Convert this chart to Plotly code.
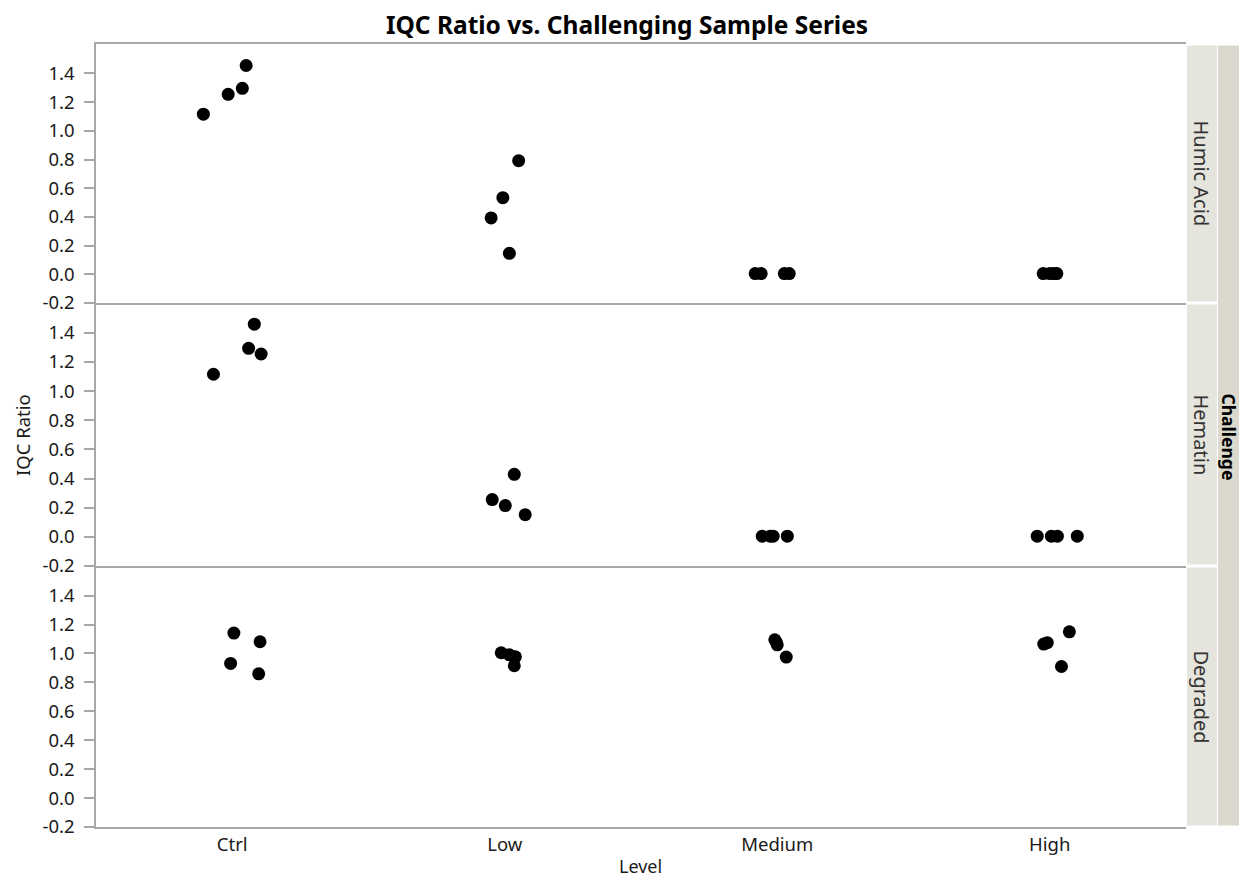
import numpy as np
import plotly.graph_objects as go
from plotly.subplots import make_subplots

levels = ["Ctrl", "Low", "Medium", "High"]
challenges = ["Humic Acid", "Hematin", "Degraded"]
y_ticks = [-0.2, 0.0, 0.2, 0.4, 0.6, 0.8, 1.0, 1.2, 1.4]

level_idx = [0, 0, 0, 0, 1, 1, 1, 1, 2, 2, 2, 2, 3, 3, 3, 3]

humic_ratio = [1.116, 1.254, 1.296, 1.455,
               0.792, 0.534, 0.393, 0.146,
               0.005, 0.005, 0.005, 0.005,
               0.005, 0.005, 0.005, 0.005]
humic_jitter = [-0.106, -0.015, 0.037, 0.051,
                0.051, -0.007, -0.050, 0.017,
                -0.081, -0.059, 0.026, 0.044,
                -0.024, 0.000, 0.015, 0.026]

hematin_ratio = [1.116, 1.294, 1.460, 1.255,
                 0.256, 0.215, 0.429, 0.152,
                 0.005, 0.005, 0.005, 0.005,
                 0.005, 0.005, 0.005, 0.005]
hematin_jitter = [-0.069, 0.060, 0.081, 0.106,
                  -0.046, 0.002, 0.035, 0.075,
                  -0.055, -0.026, -0.015, 0.037,
                  -0.046, 0.006, 0.028, 0.101]

degraded_ratio = [1.141, 1.081, 0.931, 0.859,
                  1.005, 0.991, 0.977, 0.915,
                  1.095, 1.080, 1.060, 0.975,
                  1.065, 1.075, 1.150, 0.910]
degraded_jitter = [0.006, 0.102, -0.006, 0.097,
                   -0.013, 0.017, 0.039, 0.035,
                   -0.009, -0.004, 0.000, 0.033,
                   -0.022, -0.009, 0.072, 0.043]

series = [(humic_ratio, humic_jitter), (hematin_ratio, hematin_jitter), (degraded_ratio, degraded_jitter)]

FONT = "Noto Sans"
AXIS_GRAY = "#a8a8a8"
TEXT = "#1a1a1a"
TICK_SIZE = 18.5

W, H = 1239, 878
ML, MR, MT, MB = 96, 53, 44, 51
PW = W - ML - MR
PH = H - MT - MB

fig = make_subplots(rows=3, cols=1, shared_xaxes=True, vertical_spacing=0)

# panel heights (pixels) as in the reference: top, middle, bottom
panel_px = [259, 263, 261]
domains = []
top = 1.0
for h in panel_px:
    bottom = top - h / PH
    domains.append([max(bottom, 0.0), top])
    top = bottom

for i, (vals, jit) in enumerate(series):
    x = np.array(level_idx, dtype=float) + np.array(jit)
    fig.add_trace(go.Scatter(
        x=x, y=vals, mode="markers",
        marker=dict(color="black", size=13, line=dict(width=0)),
        showlegend=False, name=challenges[i]), row=i + 1, col=1)
    fig.update_yaxes(
        domain=domains[i], automargin=False,
        range=[-0.2, 1.605], tickvals=y_ticks, ticktext=[f"{v:.1f}" for v in y_ticks],
        showgrid=False, zeroline=False, showline=True, linecolor=AXIS_GRAY, linewidth=1.5,
        ticks="outside", ticklen=10, tickcolor=AXIS_GRAY, tickwidth=1.5,
        ticklabelstandoff=6,
        tickfont=dict(family=FONT, size=TICK_SIZE, color=TEXT), row=i + 1, col=1)
    fig.update_xaxes(
        range=[-0.5, 3.5], tickvals=[0, 1, 2, 3], ticktext=levels, automargin=False,
        showgrid=False, zeroline=False, showline=True, linecolor=AXIS_GRAY, linewidth=1.5,
        mirror=(i == 0), ticks="", tickfont=dict(family=FONT, size=TICK_SIZE, color=TEXT),
        row=i + 1, col=1)

annotations = []
# axis titles
annotations.append(dict(text="Level", xref="paper", yref="paper", x=0.5 - 1 / PW, y=-39 / PH,
                        showarrow=False, xanchor="center", yanchor="middle",
                        font=dict(family=FONT, size=18, color=TEXT)))
annotations.append(dict(text="IQC Ratio", textangle=-90, xref="paper", yref="paper",
                        x=(22 - ML) / PW, y=(827 - 435) / PH, showarrow=False,
                        xanchor="center", yanchor="middle",
                        font=dict(family=FONT, size=TICK_SIZE, color=TEXT)))
# strip labels
for i, name in enumerate(challenges):
    d0, d1 = domains[i]
    annotations.append(dict(text=name, textangle=90, xref="paper", yref="paper",
                            x=1.0 + 15 / PW, y=(d0 + d1) / 2, showarrow=False,
                            xanchor="center", yanchor="middle",
                            font=dict(family=FONT, size=20, color="#333333")))
annotations.append(dict(text="<b>Challenge</b>", textangle=90, xref="paper", yref="paper",
                        x=1.0 + 42.5 / PW, y=(827 - 437) / PH, showarrow=False,
                        xanchor="center", yanchor="middle",
                        font=dict(family=FONT, size=17.5, color="black")))

fig.update_layout(
    width=W, height=H,
    margin=dict(l=ML, r=MR, t=MT, b=MB, autoexpand=False),
    paper_bgcolor="white", plot_bgcolor="white",
    title=dict(text="<b>IQC Ratio vs. Challenging Sample Series</b>", x=(ML + PW / 2 - 14) / W, xanchor="center",
               y=1 - 25 / H, yanchor="middle", font=dict(family=FONT, size=24.5, color="black")),
    annotations=annotations,
)

for i in range(3):
    d0, d1 = domains[i]
    fig.add_shape(type="rect", xref="paper", yref="paper",
                  x0=1.0 + 1 / PW, x1=1.0 + 31 / PW, y0=d0 + 1.5 / PH, y1=d1 - 1.5 / PH,
                  fillcolor="#e5e5dd", line=dict(width=0), layer="below")
fig.add_shape(type="rect", xref="paper", yref="paper",
              x0=1.0 + 32 / PW, x1=1.0 + 53 / PW, y0=0.0 + 1.5 / PH, y1=1.0 - 1.5 / PH,
              fillcolor="#dbd9cd", line=dict(width=0), layer="below")

fig.write_html("out.html", config={"displayModeBar": False},
               post_script="document.body.style.margin='0';document.body.style.overflow='hidden';")
